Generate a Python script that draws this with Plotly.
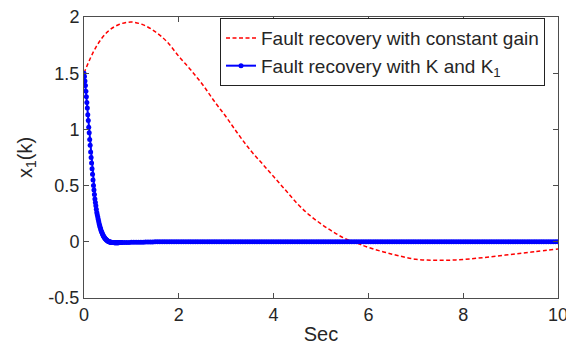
import numpy as np
import plotly.graph_objects as go

# ---- data ----
red_t = [0, 0.25, 0.5, 0.75, 1.0, 1.25, 1.5, 1.75, 2.0, 2.25, 2.5, 2.75, 3.0, 3.25,
         3.5, 3.75, 4.0, 4.25, 4.5, 4.75, 5.0, 5.25, 5.5, 5.75, 6.0, 6.5, 7.0, 7.5,
         8.0, 8.5, 9.0, 9.5, 10.0]
red_x1 = [1.50, 1.73, 1.87, 1.935, 1.955, 1.93, 1.87, 1.78, 1.65, 1.53, 1.40, 1.25,
          1.11, 0.96, 0.82, 0.70, 0.58, 0.46, 0.34, 0.24, 0.16, 0.09, 0.03, -0.01,
          -0.05, -0.11, -0.155, -0.165, -0.157, -0.137, -0.113, -0.088, -0.063]

# blue: fast transient sampled every 0.01 s (0 .. 0.80 s)
blue_fast_x1 = [1.50, 1.47, 1.43, 1.39, 1.34, 1.29, 1.24, 1.19, 1.13, 1.08,
                1.02, 0.97, 0.91, 0.86, 0.80, 0.75, 0.70, 0.65, 0.60, 0.55,
                0.50, 0.46, 0.42, 0.38, 0.35, 0.32, 0.29, 0.26, 0.24, 0.22,
                0.20, 0.18, 0.16, 0.145, 0.13, 0.115, 0.10, 0.09, 0.08, 0.07,
                0.06, 0.052, 0.045, 0.038, 0.032, 0.027, 0.022, 0.018, 0.014, 0.011,
                0.008, 0.005, 0.003, 0.001, -0.001, -0.002, -0.003, -0.004, -0.005, -0.006,
                -0.006, -0.007, -0.007, -0.007, -0.008, -0.008, -0.008, -0.008, -0.008, -0.008,
                -0.008, -0.008, -0.008, -0.008, -0.007, -0.007, -0.007, -0.007, -0.007, -0.007,
                -0.007]
# blue: steady part sampled every 0.05 s (0.85 .. 10.0 s)
blue_slow_x1 = [-0.007, -0.006, -0.006, -0.005, -0.005, -0.004, -0.004, -0.003, -0.003, -0.002,
                -0.002, -0.001, -0.001, 0, 0, 0, 0, 0, 0, 0,
                0, 0, 0, 0, 0, 0, 0, 0, 0, 0,
                0, 0, 0, 0, 0, 0, 0, 0, 0, 0,
                0, 0, 0, 0, 0, 0, 0, 0, 0, 0,
                0, 0, 0, 0, 0, 0, 0, 0, 0, 0,
                0, 0, 0, 0, 0, 0, 0, 0, 0, 0,
                0, 0, 0, 0, 0, 0, 0, 0, 0, 0,
                0, 0, 0, 0, 0, 0, 0, 0, 0, 0,
                0, 0, 0, 0, 0, 0, 0, 0, 0, 0,
                0, 0, 0, 0, 0, 0, 0, 0, 0, 0,
                0, 0, 0, 0, 0, 0, 0, 0, 0, 0,
                0, 0, 0, 0, 0, 0, 0, 0, 0, 0,
                0, 0, 0, 0, 0, 0, 0, 0, 0, 0,
                0, 0, 0, 0, 0, 0, 0, 0, 0, 0,
                0, 0, 0, 0, 0, 0, 0, 0, 0, 0,
                0, 0, 0, 0, 0, 0, 0, 0, 0, 0,
                0, 0, 0, 0, 0, 0, 0, 0, 0, 0,
                0, 0, 0, 0]
blue_fast_t = list(np.round(np.arange(len(blue_fast_x1)) * 0.01, 2))
blue_slow_t = list(np.round(0.85 + np.arange(len(blue_slow_x1)) * 0.05, 2))
blue_t = blue_fast_t + blue_slow_t
blue_x1 = blue_fast_x1 + blue_slow_x1

x_ticks = [0, 2, 4, 6, 8, 10]
y_ticks = [-0.5, 0, 0.5, 1, 1.5, 2]
y_tick_text = ["-0.5", "0", "0.5", "1", "1.5", "2"]

FONT = "Arial, Liberation Sans, sans-serif"
AX = "#4d4d4d"
TXT = "#262626"

fig = go.Figure()
fig.add_trace(go.Scatter(
    x=red_t, y=red_x1, mode="lines", line_shape="spline",
    line=dict(color="#ff0000", width=1.5, dash="4px,2.5px"),
    name="Fault recovery with constant gain"))
fig.add_trace(go.Scatter(
    x=blue_t, y=blue_x1, mode="lines+markers",
    line=dict(color="#0000ff", width=2),
    marker=dict(color="#0000ff", size=5, symbol="circle"),
    name="Fault recovery with K and K<sub>1</sub>"))

# the page body has an 8px margin, so the figure is sized to fit the window
fig.update_layout(
    width=566, height=337,
    margin=dict(l=76, r=16, t=9, b=47),
    paper_bgcolor="white", plot_bgcolor="white",
    font=dict(family=FONT, size=18, color=TXT),
    showlegend=True,
    legend=dict(x=0.9726, y=0.996, xanchor="right", yanchor="top",
                bgcolor="white", bordercolor="#222222", borderwidth=1,
                font=dict(family=FONT, size=19, color=TXT),
                tracegroupgap=0, itemwidth=30),
)
fig.update_xaxes(
    range=[0, 10], tickvals=x_ticks, ticks="inside", ticklen=5, tickcolor=AX,
    showline=True, linecolor=AX, linewidth=1, mirror="ticks", showgrid=False,
    zeroline=False, automargin=False, ticklabeloverflow="allow",
    tickfont=dict(size=18, color=TXT),
    title=dict(text="Sec", font=dict(size=20, color=TXT), standoff=4))
fig.update_yaxes(
    range=[-0.5, 2], tickvals=y_ticks, ticktext=y_tick_text, ticks="inside",
    ticklen=5, tickcolor=AX, showline=True, linecolor=AX, linewidth=1,
    mirror="ticks", showgrid=False, zeroline=False, automargin=False,
    ticklabeloverflow="allow", tickfont=dict(size=18, color=TXT),
    title=dict(text="x<sub>1</sub>(k)", font=dict(size=20, color=TXT), standoff=10))

fig.write_html("out.html")
